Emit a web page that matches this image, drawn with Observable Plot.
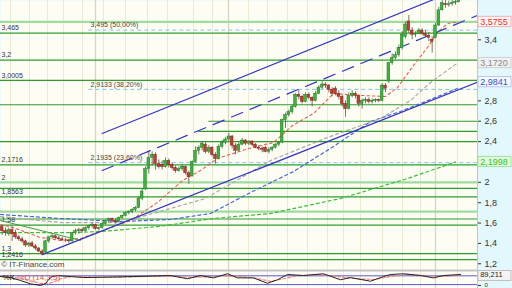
<!DOCTYPE html>
<html><head><meta charset="utf-8">
<script src="https://cdn.jsdelivr.net/npm/d3@7"></script>
<script src="https://cdn.jsdelivr.net/npm/@observablehq/plot@0.6"></script>
<style>
html,body{margin:0;padding:0;background:#e2f8fd;width:512px;height:288px;overflow:hidden}
svg{display:block}
</style></head><body><div id="chart"></div>
<script>
// ---- daily candles (index 0..137) ----
const opens = [1.56,1.52,1.49,1.53,1.50,1.46,1.44,1.42,1.38,1.40,
1.37,1.35,1.32,1.31,1.42,1.46,1.47,1.45,1.44,1.43,
1.43,1.42,1.50,1.52,1.53,1.52,1.55,1.57,1.58,1.54,
1.55,1.59,1.62,1.64,1.62,1.61,1.65,1.67,1.70,1.71,
1.73,1.75,1.84,1.93,2.13,2.24,2.27,2.18,
2.17,2.15,2.21,2.17,2.14,2.11,2.13,2.15,2.09,2.06,
2.20,2.31,2.34,2.37,2.30,2.34,2.27,2.23,2.35,2.39,
2.42,2.45,2.36,2.31,2.37,2.41,2.38,2.40,2.37,2.34,
2.33,2.34,2.30,2.32,2.34,2.37,2.39,2.61,2.66,2.69,
2.74,2.86,2.84,2.79,2.86,2.83,2.80,2.87,2.93,2.96,
2.95,2.91,2.92,2.87,2.84,2.77,2.72,2.85,2.87,2.85,
2.77,2.80,2.81,2.79,2.80,2.81,2.80,2.95,2.99,3.17,
3.22,3.25,3.32,3.43,3.58,3.49,3.45,3.46,3.49,3.46,
3.44,3.40,3.42,3.54,3.69,3.75,3.74,3.75,3.76,3.77];
const highs = [1.58,1.55,1.55,1.56,1.53,1.48,1.46,1.43,1.41,1.42,
1.39,1.36,1.34,1.43,1.47,1.49,1.48,1.47,1.46,1.45,
1.44,1.51,1.54,1.55,1.55,1.56,1.58,1.60,1.59,1.56,
1.60,1.63,1.65,1.65,1.64,1.66,1.68,1.71,1.72,1.74,
1.76,1.86,1.93,2.15,2.31,2.30,2.29,2.22,
2.21,2.24,2.23,2.19,2.16,2.15,2.17,2.16,2.11,2.21,
2.35,2.36,2.40,2.39,2.36,2.35,2.29,2.37,2.41,2.44,
2.48,2.46,2.38,2.39,2.43,2.42,2.41,2.41,2.38,2.36,
2.35,2.35,2.34,2.35,2.38,2.40,2.62,2.68,2.71,2.76,
2.87,2.90,2.85,2.88,2.88,2.84,2.89,2.95,2.99,2.98,
2.96,2.93,2.94,2.90,2.86,2.80,2.88,2.90,2.89,2.86,
2.82,2.83,2.83,2.82,2.82,2.82,2.97,2.97,3.18,3.26,
3.28,3.35,3.48,3.57,3.64,3.52,3.48,3.51,3.51,3.49,
3.47,3.43,3.56,3.72,3.80,3.79,3.78,3.79,3.80,3.84];
const lows = [1.48,1.47,1.47,1.42,1.44,1.42,1.40,1.36,1.36,1.36,
1.33,1.31,1.28,1.30,1.40,1.44,1.44,1.43,1.42,1.41,
1.40,1.41,1.48,1.49,1.50,1.51,1.53,1.55,1.53,1.52,
1.54,1.58,1.61,1.60,1.59,1.60,1.64,1.66,1.68,1.69,
1.71,1.74,1.82,1.92,2.08,2.16,2.12,2.13,
2.12,2.14,2.14,2.12,2.09,2.10,2.11,2.07,1.98,2.05,
2.19,2.27,2.31,2.28,2.28,2.25,2.18,2.22,2.33,2.37,
2.40,2.33,2.27,2.30,2.36,2.36,2.36,2.35,2.33,2.31,
2.29,2.29,2.28,2.30,2.33,2.35,2.38,2.53,2.64,2.67,
2.73,2.81,2.77,2.78,2.81,2.74,2.79,2.86,2.91,2.92,
2.88,2.84,2.85,2.81,2.74,2.64,2.71,2.83,2.82,2.74,
2.72,2.77,2.77,2.77,2.78,2.78,2.79,2.88,2.97,3.15,
3.20,3.23,3.30,3.41,3.46,3.40,3.42,3.45,3.44,3.42,
3.38,3.27,3.41,3.53,3.68,3.71,3.72,3.73,3.74,3.76];
const closes = [1.52,1.50,1.53,1.49,1.46,1.44,1.42,1.38,1.40,1.37,
1.35,1.32,1.30,1.42,1.46,1.47,1.45,1.44,1.43,1.43,
1.42,1.50,1.52,1.53,1.52,1.55,1.57,1.58,1.54,1.55,
1.59,1.62,1.64,1.62,1.61,1.65,1.67,1.70,1.71,1.73,
1.75,1.84,1.91,2.13,2.24,2.27,2.18,2.15,
2.15,2.21,2.17,2.14,2.11,2.13,2.15,2.09,2.05,2.20,
2.31,2.34,2.38,2.30,2.34,2.27,2.23,2.35,2.39,2.42,
2.45,2.36,2.31,2.37,2.41,2.38,2.40,2.37,2.34,2.33,
2.32,2.30,2.32,2.34,2.37,2.39,2.61,2.66,2.69,2.74,
2.86,2.84,2.79,2.86,2.83,2.80,2.87,2.93,2.96,2.95,
2.91,2.87,2.87,2.84,2.77,2.72,2.85,2.87,2.85,2.77,
2.80,2.81,2.79,2.80,2.81,2.80,2.95,2.92,3.17,3.22,
3.25,3.32,3.45,3.55,3.49,3.45,3.46,3.49,3.46,3.44,
3.42,3.38,3.54,3.69,3.76,3.74,3.75,3.76,3.77,3.82];

// ---- moving averages, read at vertices [index, value] ----
const ma20 = [[-0.5,1.58],[2.5,1.566],[11.5,1.458],[17.5,1.429],[23.5,1.448],[29.5,1.517],[38.5,1.625],[46.6,1.802],[54.1,2.018],[59.5,2.116],[64.6,2.234],[73.9,2.332],[81.4,2.391],[87.1,2.558],[93.4,2.676],[99.4,2.873],[108.1,2.853],[115,2.843],[118.6,2.931],[123.4,3.148],[127.6,3.324],[130.6,3.472],[133.6,3.56],[136.6,3.5755]];
const ma50 = [[-0.5,1.664],[17.5,1.605],[35.5,1.605],[50.5,1.743],[61,1.841],[80.5,2.214],[97.6,2.44],[113.5,2.627],[122.5,2.804],[128.5,2.981],[136.6,3.172]];
const ma100 = [[-0.5,1.684],[17.5,1.645],[35.5,1.615],[50.5,1.635],[62.5,1.694],[74.5,1.90],[87.4,2.106],[99.4,2.352],[110.5,2.597],[119.5,2.696],[128.5,2.814],[136.6,2.922]];
const ma200 = [[-0.5,1.507],[21.1,1.507],[29.5,1.517],[46.9,1.566],[63.4,1.645],[80.5,1.694],[101.5,1.841],[121.6,2.037],[136,2.1998]];

// ---- trend lines [index, value] ----
const upperChannel = [[30,2.48],[142.6,3.97]];
const midChannel = [[30,2.116],[142.6,3.64]];
const lowerChannel = [[12,1.29],[142.6,2.9841]];
const greenTrend = [[-0.5,1.625],[23.5,1.43]];

// ---- horizontal levels ----
const levels = [3.465,3.2,3.0005,2.762,2.4,2.1716,1.94,1.8563,1.64,1.58,1.3,1.2416];
const lightLevels = [3.5755,2.0,1.712];
const partialLevels = [2.6,2.5];
const partialStarts = [62,59];
const levelLabelValues = [3.465,3.2,3.0005,2.1716,2.0,1.8563,1.58,1.3,1.2416];
const levelLabels = ["3,465","3,2","3,0005","2,1716","2","1,8563","1,58","1,3","1,2416"];
const fibValues = [3.495,2.9133,2.1935];
const fibLabels = ["3,495 (50,00%)","2,9133 (38,20%)","2,1935 (23,60%)"];
const fibStart = 26;

// ---- right axis (ticks hidden behind value boxes are left out) ----
const yTicks = [1.2,1.4,1.6,1.8,2.0,2.4,2.6,2.8,3.4];
const boxValues = [3.5755,3.1720,2.9841,2.1998];
const boxLabels = ["3,5755","3,1720","2,9841","2,1998"];
const boxText = ["#e8322a","#8a8a8a","#2a4fd8","#2fbf2f"];
const boxFill = ["#fff4f4","#f1f1f1","#f6f9ff","#e0ffd8"];
const boxStroke = ["#f0b4b4","#cfcfcf","#b8c6ee","#a6dca6"];

// ---- vertical grid (candle index) ----
const weekGrid = [2.5,8.2,13.6,18.4,24.1,30.4,37,43.6,49.6,57.4,63.1,73.9,79.6,85.6,91.6,97.6,102.4,107.5,114.1,120.1,125.5,136.6];
const monthGrid = [28,67.9,130];

// ---- stochastic %K %D (14,3,5) ----
const stochK = [[-0.5,75],[2.5,68],[5.5,48],[8.5,25],[11.5,14],[13,27],[14.5,70],[16.6,82],[20.5,75],[24.4,68],[29.5,70],[39.4,75],[50.5,82],[55.6,60],[59.5,82],[63.4,66],[67.6,94],[70.6,66],[75.4,66],[79.6,29],[82.6,53],[85.6,89],[90.4,82],[96.4,94],[101.5,53],[104.5,68],[110.5,43],[114.4,75],[116.5,89],[120.4,94],[125.5,82],[129.4,66],[132.4,82],[137.5,89.211]];
const stochD = [[-0.5,78],[3.5,70],[7.5,50],[11.5,28],[14.5,30],[17.5,60],[21.5,78],[26.5,72],[33.5,70],[41.5,74],[50.5,78],[56.5,70],[61.5,72],[66.5,80],[71.5,75],[76.5,62],[80.5,42],[84.5,60],[88.5,80],[95.5,88],[102.5,70],[106.5,60],[111.5,55],[116.5,75],[121.5,90],[127.5,80],[131.5,75],[137.5,85]];
const stochBands = [20,80];
const stochLast = 89.211;

const xDomain = [-0.5, 142.6];
const fmt = d => String(d).replace(".", ",");
const pts = arr => arr.map(([i, v]) => ({i, v}));
const candles = closes.map((c, i) => ({i, o: opens[i], h: highs[i], l: lows[i], c}));
const font = "Liberation Sans, Arial, sans-serif";

const main = Plot.plot({
  width: 512, height: 270,
  marginLeft: 0, marginRight: 35, marginTop: 0, marginBottom: 0,
  style: {background: "#e2f8fd", fontFamily: font, fontSize: "9px", overflow: "visible"},
  x: {domain: xDomain, axis: null},
  y: {domain: [1.134, 3.786], axis: null},
  marks: [
    Plot.frame({fill: "#fdfdf3"}),
    Plot.ruleX(weekGrid, {stroke: "#ebe8d4", strokeWidth: 1}),
    Plot.ruleX(monthGrid, {stroke: "#d8d4bd", strokeWidth: 1.3}),
    Plot.ruleY(lightLevels, {stroke: "#9fdb9f", strokeWidth: 2.2}),
    Plot.ruleY(levels, {stroke: "#2f9b2f", strokeWidth: 1.2}),
    Plot.ruleY(partialLevels, {x1: (d, i) => partialStarts[i], x2: () => xDomain[1], stroke: "#2f9b2f", strokeWidth: 1.2}),
    Plot.ruleY(fibValues, {x1: () => fibStart, x2: () => xDomain[1], stroke: "#7cc6f0", strokeWidth: 1, strokeDasharray: "4,3"}),
    Plot.text(levelLabelValues, {x: () => -0.2, y: d => d, text: (d, i) => levelLabels[i], textAnchor: "start", dy: -5, fontSize: 7, fill: "#333"}),
    Plot.text(fibValues, {x: () => fibStart + 0.5, y: d => d, text: (d, i) => fibLabels[i], textAnchor: "start", dy: -5, fontSize: 7, fill: "#444"}),
    Plot.line(pts(ma200), {x: "i", y: "v", stroke: "#35c035", strokeWidth: 1.2, strokeDasharray: "3,3", clip: true}),
    Plot.line(pts(ma100), {x: "i", y: "v", stroke: "#4565e0", strokeWidth: 1.2, strokeDasharray: "3,3", clip: true}),
    Plot.line(pts(ma50), {x: "i", y: "v", stroke: "#a8a8a8", strokeWidth: 1.2, strokeDasharray: "3,3", clip: true}),
    Plot.line(pts(ma20), {x: "i", y: "v", stroke: "#e85a52", strokeWidth: 1.1, strokeDasharray: "2.5,3", clip: true}),
    Plot.line(pts(greenTrend), {x: "i", y: "v", stroke: "#3fa23f", strokeWidth: 1, clip: true}),
    Plot.line(pts(upperChannel), {x: "i", y: "v", stroke: "#3434c4", strokeWidth: 1.2, clip: true}),
    Plot.line(pts(midChannel), {x: "i", y: "v", stroke: "#3434c4", strokeWidth: 1.2, strokeDasharray: "12,8", clip: true}),
    Plot.line(pts(lowerChannel), {x: "i", y: "v", stroke: "#3434c4", strokeWidth: 1.3, clip: true}),
    Plot.ruleX(candles, {x: "i", y1: "l", y2: "h", stroke: "#555", strokeWidth: 0.8, clip: true}),
    Plot.rect(candles, {x1: d => d.i - 0.4, x2: d => d.i + 0.4, y1: "o", y2: "c",
      fill: d => d.c >= d.o ? "#3cb43c" : "#c63c2c",
      stroke: d => d.c >= d.o ? "#1f7a1f" : "#7e2218", strokeWidth: 0.5, clip: true}),
    Plot.text(["© IT-Finance.com"], {x: () => -0.3, y: () => 1.19, textAnchor: "start", fontSize: 8, fill: "#444"}),
    Plot.ruleX([xDomain[1]], {stroke: "#b8c8cc", strokeWidth: 1}),
    Plot.axisY(yTicks, {anchor: "right", tickSize: 3, tickPadding: 4, tickFormat: fmt, fontSize: 9, color: "#333"}),
    ...boxValues.map((v, k) => Plot.rect([v], {x1: () => 142.9, x2: () => 152.8, y1: d => d - 0.05, y2: d => d + 0.05, fill: boxFill[k], stroke: boxStroke[k], strokeWidth: 1})),
    ...boxValues.map((v, k) => Plot.text([v], {x: () => 143.4, y: d => d, text: () => boxLabels[k], textAnchor: "start", fill: boxText[k], fontSize: 9}))
  ]
});

const stoch = Plot.plot({
  width: 512, height: 18,
  marginLeft: 0, marginRight: 35, marginTop: 0, marginBottom: 0,
  style: {background: "#e2f8fd", fontFamily: font, fontSize: "9px", overflow: "visible"},
  x: {domain: xDomain, axis: null},
  y: {domain: [-6.85, 116.4], axis: null},
  marks: [
    Plot.frame({fill: "#fdfdf3"}),
    Plot.ruleX(weekGrid, {stroke: "#ebe8d4", strokeWidth: 1}),
    Plot.ruleX(monthGrid, {stroke: "#d8d4bd", strokeWidth: 1.3}),
    Plot.ruleY([116.4], {stroke: "#c4c4c4", strokeWidth: 2}),
    Plot.ruleY(stochBands, {stroke: "#5a5ad8", strokeWidth: 1}),
    Plot.line(pts(stochD), {x: "i", y: "v", stroke: "#f08080", strokeWidth: 1.1, strokeDasharray: "3,2", clip: true}),
    Plot.line(pts(stochK), {x: "i", y: "v", stroke: "#222", strokeWidth: 1, clip: true}),
    Plot.text(["%K"], {x: () => -0.5, y: () => 68, dx: 2, textAnchor: "start", fontSize: 8, fill: "#222"}),
    Plot.text(["%D (14,3,5)"], {x: () => -0.5, y: () => 68, dx: 17, textAnchor: "start", fontSize: 8, fill: "#e05050"}),
    Plot.ruleX([xDomain[1]], {stroke: "#b8c8cc", strokeWidth: 1}),
    Plot.axisY([0], {anchor: "right", tickSize: 3, tickPadding: 4, tickFormat: fmt, fontSize: 6, dy: -2, color: "#333"}),
    Plot.rect([stochLast], {x1: () => 142.9, x2: () => 152.8, y1: () => 45, y2: () => 113, fill: "#f4f4f4", stroke: "#bdbdbd"}),
    Plot.text([stochLast], {x: () => 143.4, y: () => 85.6, text: d => fmt(d), textAnchor: "start", fill: "#222", fontSize: 7.5})
  ]
});

const host = document.getElementById("chart");
host.appendChild(main);
host.appendChild(stoch);
</script>
</body></html>
